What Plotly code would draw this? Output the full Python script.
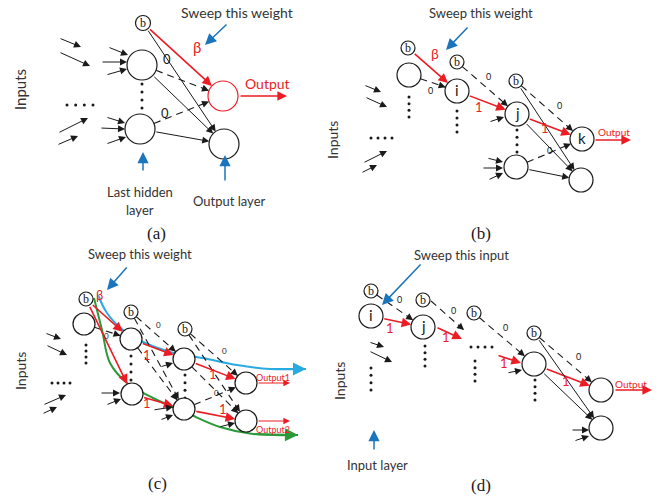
import math
import plotly.graph_objects as go

W, H = 668, 496
RED = '#ec1c24'; BLUE = '#1b75bc'; SKY = '#29abe2'; GREEN = '#2a9a3a'; INK = '#1a1a1a'
SANS = 'Lato'; SERIF = 'Liberation Serif'

# ---------------- data: nodes (x, y, radius, label, colour) ----------------
nodes_a = {'b': (143, 23, 7.5, 'b', INK), 'h1': (142, 65, 15, '', INK), 'h2': (140, 129, 15, '', INK),
           'o1': (223, 96, 15, '', RED), 'o2': (224, 144, 15, '', INK)}
nodes_b = {'b1': (408, 48, 7, 'b', INK), 'n1': (409, 75, 12, '', INK), 'b2': (457, 62, 7, 'b', INK),
           'i': (457, 91, 12, 'i', INK), 'b3': (516, 81, 7, 'b', INK), 'j': (517, 114, 12, 'j', INK),
           'n3': (516, 167, 12, '', INK), 'k': (582, 139, 12, 'k', INK), 'n5': (581, 180, 12, '', INK)}
nodes_c = {'b1': (86, 299, 7, 'b', INK), 'n1': (84, 324, 11, '', INK), 'b2': (131, 312, 7, 'b', INK),
           'h2a': (131, 339, 11, '', INK), 'h2b': (132, 394, 11, '', INK), 'b3': (185, 329, 7, 'b', INK),
           'h3a': (184, 359, 11, '', INK), 'h3b': (184, 409, 11, '', INK),
           'o1': (246, 383, 11, '', INK), 'o2': (246, 421, 11, '', INK)}
nodes_d = {'b1': (371, 291, 7, 'b', INK), 'i': (371, 316, 12, 'i', INK), 'b2': (423, 300, 7, 'b', INK),
           'j': (423, 327, 12, 'j', INK), 'b3': (474, 313, 7, 'b', INK), 'b4': (534, 333, 7, 'b', INK),
           'n4': (534, 364, 12, '', INK), 'out': (601, 390, 12, '', INK), 'bot': (601, 428, 12, '', INK)}

# ---------------- data: edges (from, to, kind) ----------------
edges_a = [('b', 'o1', 'red'), ('b', 'o2', 'solid'), ('h1', 'o2', 'solid'), ('h1', 'o1', 'dash'),
           ('h2', 'o1', 'dash'), ('h2', 'o2', 'solid')]
edges_b = [('b1', 'i', 'red'), ('n1', 'i', 'dash'), ('b2', 'j', 'dash'), ('i', 'j', 'red'), ('j', 'k', 'red'),
           ('b3', 'k', 'dash'), ('b3', 'n5', 'solid'), ('j', 'n5', 'solid'), ('n3', 'k', 'dash'),
           ('n3', 'n5', 'solid')]
edges_c = [('b1', 'h2a', 'red'), ('b1', 'h2b', 'red'), ('h2a', 'h3a', 'red'), ('h2b', 'h3b', 'red'),
           ('h3a', 'o1', 'red'), ('h3b', 'o2', 'red'), ('n1', 'h2a', 'dash'), ('b2', 'h3a', 'dash'),
           ('b2', 'h3b', 'dash'), ('h2a', 'h3b', 'dash'), ('b3', 'o1', 'dash'), ('b3', 'o2', 'dash'),
           ('h3a', 'o2', 'dash'), ('h3b', 'o1', 'dash')]
edges_d = [('i', 'j', 'red'), ('n4', 'out', 'red'), ('b1', 'j', 'dash'), ('b3', 'n4', 'dash'),
           ('b4', 'out', 'dash'), ('b4', 'bot', 'solid'), ('n4', 'bot', 'solid')]

# free-standing arrows (x0, y0, x1, y1, kind)
free_arrows = [
    # panel a
    (59, 38, 81, 47, 'solid'), (59, 52, 90, 66, 'solid'), (58, 133, 88, 118, 'solid'), (57, 145, 78, 136, 'solid'),
    (108, 47, 128, 55, 'solid'), (101, 62, 127, 62, 'solid'), (106, 75, 127, 69, 'solid'),
    (106, 117, 125, 123, 'solid'), (100, 128, 125, 129, 'solid'), (106, 144, 126, 137, 'solid'),
    (239, 96, 287, 96, 'red'),
    # panel b
    (364, 85, 381, 92, 'solid'), (365, 97, 387, 107, 'solid'), (363, 163, 387, 151, 'solid'),
    (361, 173, 377, 165, 'solid'), (489, 122, 504, 117, 'solid'), (482, 168, 503, 168, 'solid'),
    (487, 158, 503, 162, 'solid'), (488, 180, 503, 173, 'solid'), (594, 140, 631, 140, 'red'),
    # panel c
    (45, 333, 61, 339, 'solid'), (46, 345, 67, 355, 'solid'), (43, 405, 66, 395, 'solid'),
    (42, 414, 57, 407, 'solid'), (100, 393, 120, 393, 'solid'), (106, 405, 121, 399, 'solid'),
    (160, 367, 173, 363, 'solid'), (153, 410, 173, 407, 'solid'), (160, 420, 173, 415, 'solid'),
    (219, 427, 235, 423, 'solid'), (257, 383, 290, 383, 'redthin'), (257, 421, 290, 421, 'redthin'),
    # panel d
    (436, 327, 462, 339, 'red'), (497, 355, 521, 363, 'red'), (614, 390, 652, 390, 'red'),
    (369, 342, 384, 347, 'solid'), (369, 351, 392, 362, 'solid'), (507, 373, 522, 370, 'solid'),
    (571, 430, 589, 430, 'solid'), (574, 441, 589, 436, 'solid'),
]
free_dashes = [(431, 301, 464, 330)]
blue_arrows = [(228, 23, 205, 45), (143, 172, 143, 152), (225, 182, 225, 155), (469, 26, 446, 50),
               (128, 266, 107, 290), (422, 263, 382, 305), (374, 451, 374, 430)]

# curves in panel c
sky_x = [98, 107, 123, 143, 170, 203, 237, 270, 306]
sky_y = [295, 313, 330, 342, 352, 358, 365, 369, 369]
green_x = [94, 102, 110, 127, 153, 187, 220, 253, 298]
green_y = [298, 330, 363, 383, 398, 413, 427, 434, 435]

# dotted ellipses: vertical (x, y0, y1) and horizontal (x0, x1, y)
vdots = [(142, 84, 108), (409, 97, 117), (457, 111, 132), (517, 130, 152), (86, 345, 363), (131, 356, 380),
         (185, 375, 398), (371, 368, 390), (425, 346, 366), (475, 361, 381), (535, 380, 400)]
hdots = [(67, 93, 105), (371, 392, 138), (52, 70, 383), (471, 492, 347)]

# text labels (text, x, y, colour, size, font, angle)
labels = [
    ('Sweep this weight', 237, 12, '#333333', 14, SANS, 0), ('β', 197, 47, RED, 15, SANS, 0),
    ('0', 167, 59, INK, 13, SANS, 0), ('0', 165, 113, INK, 13, SANS, 0), ('Output', 267, 83, RED, 14, SANS, 0),
    ('Inputs', 20, 90, '#333333', 15, SANS, -90), ('Last hidden', 140, 192, '#333333', 13, SANS, 0),
    ('layer', 140, 210, '#333333', 13, SANS, 0), ('Output layer', 229, 201, '#333333', 13, SANS, 0),
    ('(a)', 156, 233, INK, 17, SERIF, 0),
    ('Sweep this weight', 481, 13, '#333333', 13, SANS, 0), ('β', 435, 53, RED, 14, SANS, 0),
    ('0', 430, 90, INK, 9, SANS, 0), ('0', 488, 76, INK, 9, SANS, 0), ('0', 559, 105, INK, 9, SANS, 0),
    ('0', 549, 150, INK, 9, SANS, 0), ('1', 479, 107, RED, 13, SANS, 0), ('1', 545, 128, RED, 13, SANS, 0),
    ('Output', 614, 132, RED, 10, SANS, 0), ('Inputs', 332, 140, '#333333', 14, SANS, -90),
    ('(b)', 481, 233, INK, 17, SERIF, 0),
    ('Sweep this weight', 140, 254, '#333333', 13, SANS, 0), ('β', 99, 295, RED, 13, SANS, 0),
    ('0', 106, 336, INK, 8, SANS, 0), ('0', 158, 325, INK, 8, SANS, 0), ('0', 224, 351, INK, 8, SANS, 0),
    ('0', 216, 393, INK, 8, SANS, 0), ('1', 147, 355, RED, 13, SANS, 0), ('1', 147, 403, RED, 13, SANS, 0),
    ('1', 213, 374, RED, 13, SANS, 0), ('1', 223, 409, RED, 13, SANS, 0),
    ('Output1', 273, 377, RED, 9, SANS, 0), ('Output2', 273, 429, RED, 9, SANS, 0),
    ('Inputs', 20, 371, '#333333', 14, SANS, -90), ('(c)', 157, 483, INK, 17, SERIF, 0),
    ('Sweep this input', 461, 255, '#333333', 13, SANS, 0), ('0', 399, 299, INK, 9, SANS, 0),
    ('0', 453, 310, INK, 9, SANS, 0), ('0', 505, 327, INK, 9, SANS, 0), ('0', 578, 356, INK, 9, SANS, 0),
    ('1', 390, 328, RED, 13, SANS, 0), ('1', 446, 337, RED, 13, SANS, 0), ('1', 504, 363, RED, 13, SANS, 0),
    ('1', 566, 381, RED, 13, SANS, 0), ('Output', 631, 384, RED, 10, SANS, 0),
    ('Inputs', 339, 381, '#333333', 14, SANS, -90), ('Input layer', 377, 465, '#333333', 13, SANS, 0),
    ('(d)', 481, 485, INK, 17, SERIF, 0),
]

# ---------------- drawing ----------------
fig = go.Figure()
shapes, anns = [], []

STYLE = {'solid': (INK, 1.0, 1.4), 'red': (RED, 1.6, 1.2), 'redthin': (RED, 1.2, 1.1), 'dash': (INK, 1.0, 1.4)}


def arrow(x0, y0, x1, y1, color, width, size):
    anns.append(dict(x=x1, y=y1, ax=x0, ay=y0, xref='x', yref='y', axref='x', ayref='y', text='',
                     showarrow=True, arrowhead=2, arrowsize=size, arrowwidth=width, arrowcolor=color))


def dashed(x0, y0, x1, y1):
    fig.add_trace(go.Scatter(x=[x0, x1], y=[y0, y1], mode='lines', hoverinfo='skip', showlegend=False,
                             line=dict(color=INK, width=1.1, dash='7px,5px')))
    L = math.hypot(x1 - x0, y1 - y0)
    ux, uy = (x1 - x0) / L, (y1 - y0) / L
    arrow(x1 - ux * 6, y1 - uy * 6, x1, y1, INK, 1.0, 1.4)


def draw_panel(nodes, edges):
    for a, b, kind in edges:
        xa, ya, ra = nodes[a][:3]
        xb, yb, rb = nodes[b][:3]
        L = math.hypot(xb - xa, yb - ya)
        ux, uy = (xb - xa) / L, (yb - ya) / L
        x0, y0, x1, y1 = xa + ux * ra, ya + uy * ra, xb - ux * rb, yb - uy * rb
        if kind == 'dash':
            dashed(x0, y0, x1, y1)
        else:
            c, w, s = STYLE[kind]
            arrow(x0, y0, x1, y1, c, w, s)
    for name, (x, y, r, lab, col) in nodes.items():
        shapes.append(dict(type='circle', xref='x', yref='y', x0=x - r, x1=x + r, y0=y - r, y1=y + r,
                           line=dict(color=col, width=1.2), fillcolor='white', layer='above'))
        if lab:
            serif = lab == 'b'
            anns.append(dict(x=x, y=y + (0 if serif else -1), xref='x', yref='y', text=lab, showarrow=False,
                             font=dict(family=SERIF if serif else SANS, size=12 if serif else 15, color=INK)))


for x0, y0, x1, y1 in free_dashes:
    dashed(x0, y0, x1, y1)

# curves (drawn first so nodes sit on top)
fig.add_trace(go.Scatter(x=sky_x, y=sky_y, mode='lines', line=dict(color=SKY, width=2, shape='spline'),
                         hoverinfo='skip', showlegend=False))
fig.add_trace(go.Scatter(x=green_x, y=green_y, mode='lines', line=dict(color=GREEN, width=2, shape='spline'),
                         hoverinfo='skip', showlegend=False))
arrow(sky_x[-2], sky_y[-2], sky_x[-1], sky_y[-1], SKY, 2, 1.3)
arrow(green_x[-2], green_y[-2], green_x[-1], green_y[-1], GREEN, 2, 1.3)

for nd, ed in ((nodes_a, edges_a), (nodes_b, edges_b), (nodes_c, edges_c), (nodes_d, edges_d)):
    draw_panel(nd, ed)

for x0, y0, x1, y1, kind in free_arrows:
    c, w, s = STYLE[kind]
    arrow(x0, y0, x1, y1, c, w, s)

for x0, y0, x1, y1 in blue_arrows:
    arrow(x0, y0, x1, y1, BLUE, 1.5, 1.5)

dx, dy = [], []
for x, y0, y1 in vdots:
    for t in range(4):
        dx.append(x); dy.append(y0 + (y1 - y0) * t / 3)
for x0, x1, y in hdots:
    for t in range(4):
        dx.append(x0 + (x1 - x0) * t / 3); dy.append(y)
fig.add_trace(go.Scatter(x=dx, y=dy, mode='markers', marker=dict(color=INK, size=3), hoverinfo='skip',
                         showlegend=False))

for text, x, y, col, size, fam, ang in labels:
    anns.append(dict(x=x, y=y, xref='x', yref='y', text=text, showarrow=False, textangle=ang,
                     font=dict(family=fam, size=size, color=col)))

fig.update_layout(width=W, height=H, margin=dict(l=0, r=0, t=0, b=0), paper_bgcolor='white',
                  plot_bgcolor='white', shapes=shapes, annotations=anns, showlegend=False,
                  xaxis=dict(range=[0, W], visible=False, fixedrange=True),
                  yaxis=dict(range=[H, 0], visible=False, fixedrange=True))
fig.write_html('out.html', config={'displayModeBar': False},
               post_script="document.body.style.margin='0px';document.body.style.overflow='hidden';")
